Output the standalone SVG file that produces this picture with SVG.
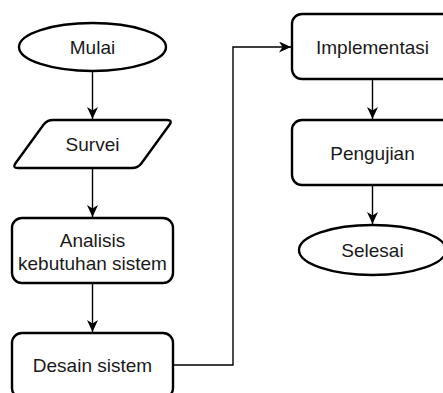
<svg xmlns="http://www.w3.org/2000/svg" width="443" height="393" viewBox="0 0 443 393">
  <style>
    .node { fill: #ffffff; stroke: #000000; stroke-width: 2.4; }
    .label { font-family: "Liberation Sans", Arial, sans-serif; font-size: 19px; fill: #1a1a1a; text-anchor: middle; }
    .conn { fill: none; stroke: #000000; stroke-width: 1.4; }
  </style>
  <defs>
    <marker id="arrow" viewBox="0 0 12 11" refX="12" refY="5.5" markerWidth="12" markerHeight="11" markerUnits="userSpaceOnUse" orient="auto">
      <path d="M0,0 L12,5.5 L0,11 L3.5,5.5 Z" fill="#000000"/>
    </marker>
  </defs>
  <rect width="443" height="393" fill="#ffffff"/>

  <g id="connectors">
    <path class="conn" d="M92.5,71 V119" marker-end="url(#arrow)"/>
    <path class="conn" d="M92.5,168 V217" marker-end="url(#arrow)"/>
    <path class="conn" d="M92.5,283 V332" marker-end="url(#arrow)"/>
    <path class="conn" d="M173,365 H233 V47 H291" marker-end="url(#arrow)"/>
    <path class="conn" d="M372.5,79 V119" marker-end="url(#arrow)"/>
    <path class="conn" d="M372.5,185 V224" marker-end="url(#arrow)"/>
  </g>

  <g id="mulai">
    <ellipse class="node" cx="92.5" cy="47" rx="73.5" ry="24"/>
    <text class="label" x="92.5" y="54">Mulai</text>
  </g>

  <g id="survei">
    <path class="node" d="M53,120 L167,120 Q173,120 169.5,124.8 L141.5,163.2 Q138,168 132,168 L18,168 Q12,168 15.5,163.2 L43.5,124.8 Q47,120 53,120 Z"/>
    <text class="label" x="92.5" y="151">Survei</text>
  </g>

  <g id="analisis">
    <rect class="node" x="12" y="218" width="161" height="65" rx="10" ry="10"/>
    <text class="label" x="92.5" y="247">Analisis</text>
    <text class="label" x="92.5" y="270">kebutuhan sistem</text>
  </g>

  <g id="desain">
    <rect class="node" x="12" y="333" width="161" height="65" rx="10" ry="10"/>
    <text class="label" x="92.5" y="372">Desain sistem</text>
  </g>

  <g id="implementasi">
    <rect class="node" x="292" y="14" width="161" height="65" rx="10" ry="10"/>
    <text class="label" x="372.5" y="53.5">Implementasi</text>
  </g>

  <g id="pengujian">
    <rect class="node" x="292" y="120" width="161" height="65" rx="10" ry="10"/>
    <text class="label" x="372.5" y="159.5">Pengujian</text>
  </g>

  <g id="selesai">
    <ellipse class="node" cx="372.5" cy="250" rx="73.5" ry="25"/>
    <text class="label" x="372.5" y="257">Selesai</text>
  </g>
</svg>
